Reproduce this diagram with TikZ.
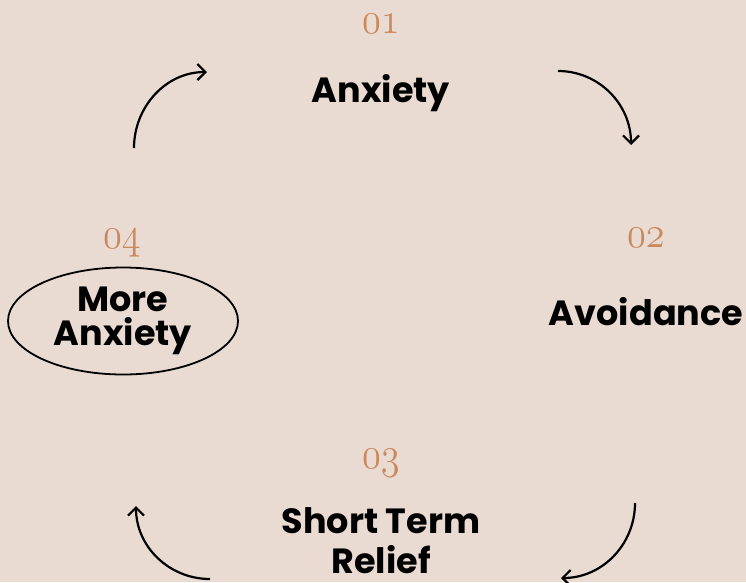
\documentclass[tikz,border=0pt]{standalone}
\usepackage{fontspec}
\newfontfamily\poppins{Poppins}
\usetikzlibrary{arrows.meta,shapes.geometric}
\definecolor{sfondo}{RGB}{234,219,210}
\definecolor{numero}{RGB}{203,136,92}

\begin{document}
\begin{tikzpicture}[x=1pt,y=1pt,
  passo/.style={font=\poppins\bfseries\fontsize{35}{34}\selectfont, align=center, inner sep=0pt},
  num/.style={text=numero, inner sep=0pt, text height=6pt, text depth=2pt,
    xscale=3.2, yscale=3.7, transform shape,
    font=\fontencoding{OML}\fontfamily{lmm}\fontseries{m}\fontshape{it}\fontsize{12}{12}\selectfont},
  freccia/.style={line width=2.2pt, -{Straight Barb[length=8pt,width=16pt]}}]

\fill[sfondo] (0,0) rectangle (746,-582);
\useasboundingbox (0,0) rectangle (746,-582);

\node[num, anchor=base] (n1) at (381,-33) {01};
\node[num, anchor=base] (n2) at (646,-247) {02};
\node[num, anchor=base] (n3) at (381,-468) {03};
\node[num, anchor=base] (n4) at (122,-248) {04};

\node[passo, anchor=base] (ansia) at (381,-102) {Anxiety};
\node[passo, anchor=base] (evita) at (646,-325) {Avoidance};
\node[passo, anchor=base] (sollievo) at (381,-573) {Short Term\\[6pt]Relief};
\node[passo, draw, line width=1.8pt, ellipse, minimum width=230pt, minimum height=107pt]
  (ancora) at (123,-321) {More\\Anxiety};

\coordinate (a1) at (134,-148);
\coordinate (b1) at (207,-72);
\coordinate (a2) at (558,-71);
\coordinate (b2) at (631,-145);
\coordinate (a3) at (635,-503);
\coordinate (b3) at (561,-578);
\coordinate (a4) at (210,-579);
\coordinate (b4) at (136,-506);

\draw[freccia] (a1) to[out=90,in=180] (b1);
\draw[freccia] (a2) to[out=0,in=90] (b2);
\draw[freccia] (a3) to[out=-90,in=0] (b3);
\draw[freccia] (a4) to[out=180,in=-90] (b4);

\end{tikzpicture}
\end{document}
